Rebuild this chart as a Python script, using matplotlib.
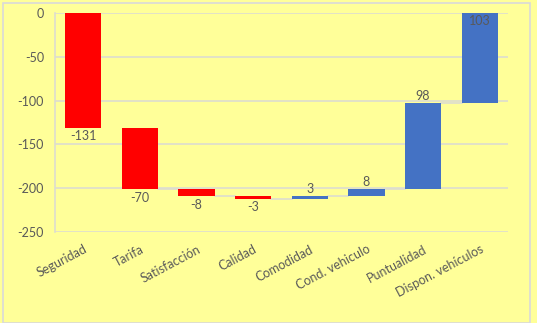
import numpy as np
import matplotlib.pyplot as plt

# waterfall data
categories = ["Seguridad", "Tarifa", "Satisfacción", "Calidad", "Comodidad",
              "Cond. vehiculo", "Puntualidad", "Dispon. vehículos"]
values = [-131, -70, -8, -3, 3, 8, 98, 103]

plt.rcParams['font.family'] = ['Lato', 'DejaVu Sans']
plt.rcParams['axes.unicode_minus'] = False

values = np.array(values)
ends = np.cumsum(values)
starts = ends - values
bottoms = np.minimum(starts, ends)
heights = np.abs(values)
colors = ['#FF0000' if v < 0 else '#4472C4' for v in values]

bg = '#FFFF99'
txt = '#595959'

fig = plt.figure(figsize=(5.37, 3.23), dpi=100, facecolor=bg)
ax = fig.add_axes([55/537, 1 - 232/323, (508 - 55)/537, (232 - 13)/323])
ax.set_facecolor(bg)

x = np.arange(len(values))
w = 0.64

ax.set_ylim(-250, 0)
ax.set_xlim(-0.5, len(values) - 0.5)
ax.set_yticks(np.arange(-250, 1, 50))
ax.yaxis.grid(True, color='#DDDDD0', linewidth=1.2)
ax.set_axisbelow(True)

# connector lines
for i in range(1, len(values) - 1):
    ax.plot([x[i] + w/2, x[i+1] - w/2], [ends[i], ends[i]],
            color='#DDDDD0', linewidth=1.2, zorder=1)

ax.bar(x, heights, w, bottom=bottoms, color=colors, zorder=2)

for i, v in enumerate(values):
    if i == len(values) - 1:
        ax.text(x[i], ends[i] - 2, str(v), ha='center', va='top',
                color=txt, fontsize=9)
    elif v < 0:
        ax.text(x[i], ends[i] - 3, str(v), ha='center', va='top',
                color=txt, fontsize=9)
    else:
        ax.text(x[i], ends[i] + 1.5, str(v), ha='center', va='bottom',
                color=txt, fontsize=9)

ax.set_xticks(x)
ax.set_xticklabels(categories, rotation=28, ha='right', rotation_mode='anchor',
                   color=txt, fontsize=9)
ax.tick_params(axis='x', length=0, pad=8)
ax.tick_params(axis='y', length=0, colors=txt, labelsize=9, pad=8)

for s in ['top', 'right', 'bottom']:
    ax.spines[s].set_visible(False)
ax.spines['left'].set_color('#DDDDD0')
ax.spines['left'].set_linewidth(1.2)

# outer border
fig.patches.append(plt.Rectangle((3/537, 0), 527/537, 1 - 3/323, transform=fig.transFigure,
                                 fill=False, edgecolor='#D9D9D9', linewidth=1.2))

fig.savefig("out.png", dpi=100, facecolor=bg)
